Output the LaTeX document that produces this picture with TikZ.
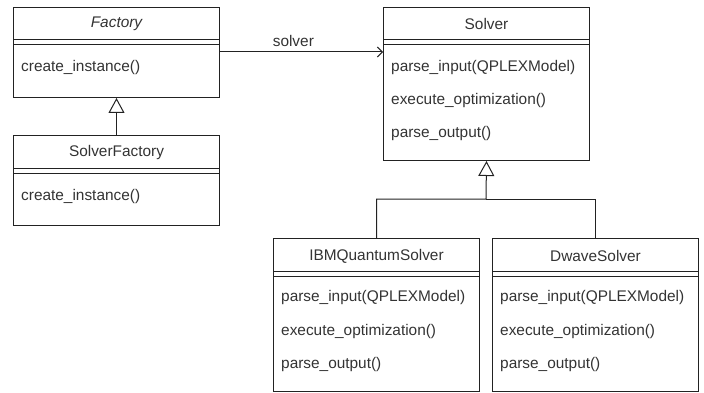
\documentclass[tikz,border=0pt]{standalone}
\usepackage{fontspec}
\setmainfont{Liberation Sans}
\usetikzlibrary{arrows.meta}
\definecolor{txt}{HTML}{333333}
\definecolor{ln}{HTML}{222222}
\begin{document}
\begin{tikzpicture}[x=1pt,y=-1pt,
  box/.style={draw=ln, line width=1pt, anchor=north west, minimum width=206pt, inner sep=0pt},
  sepl/.style={draw=ln, line width=1pt},
  ttl/.style={font=\fontsize{15.4}{18}\selectfont, text=txt, inner sep=0pt},
  meth/.style={font=\fontsize{15.4}{18}\selectfont, text=txt, inner sep=0pt, anchor=west},
  conn/.style={draw=ln, line width=1pt},
  inherit/.style={conn, -{Triangle[open, length=15pt, width=16pt, line width=1pt]}},
  assoc/.style={conn, -{Straight Barb[length=5pt, width=10pt, line width=1pt]}}]
\useasboundingbox (0,0) rectangle (704,393);

% Factory
\node[box, minimum height=90pt] (factory) at (13,7) {};
\draw[sepl] ([yshift=-33pt]factory.north west) -- ([yshift=-33pt]factory.north east);
\draw[sepl] ([yshift=-38pt]factory.north west) -- ([yshift=-38pt]factory.north east);
\node[ttl, font=\fontsize{15.4}{18}\selectfont\itshape] (factoryT) at ([yshift=-17pt]factory.north) {Factory};
\node[meth] (factoryM1) at ([xshift=8pt,yshift=-61pt]factory.north west) {create\_instance()};

% SolverFactory
\node[box, minimum height=90pt] (sfactory) at (13,135) {};
\draw[sepl] ([yshift=-33pt]sfactory.north west) -- ([yshift=-33pt]sfactory.north east);
\draw[sepl] ([yshift=-38pt]sfactory.north west) -- ([yshift=-38pt]sfactory.north east);
\node[ttl] (sfactoryT) at ([yshift=-18pt]sfactory.north) {SolverFactory};
\node[meth] (sfactoryM1) at ([xshift=8pt,yshift=-62pt]sfactory.north west) {create\_instance()};

% Solver
\node[box, minimum height=153pt] (solver) at (383,7) {};
\draw[sepl] ([yshift=-33pt]solver.north west) -- ([yshift=-33pt]solver.north east);
\draw[sepl] ([yshift=-38pt]solver.north west) -- ([yshift=-38pt]solver.north east);
\node[ttl] (solverT) at ([yshift=-17pt]solver.north) {Solver};
\node[meth] (solverM1) at ([xshift=8pt,yshift=-61pt]solver.north west) {parse\_input(QPLEXModel)};
\node[meth] (solverM2) at ([xshift=8pt,yshift=-94pt]solver.north west) {execute\_optimization()};
\node[meth] (solverM3) at ([xshift=8pt,yshift=-127pt]solver.north west) {parse\_output()};

% IBMQuantumSolver
\node[box, minimum height=153pt] (ibm) at (273,238) {};
\draw[sepl] ([yshift=-33pt]ibm.north west) -- ([yshift=-33pt]ibm.north east);
\draw[sepl] ([yshift=-38pt]ibm.north west) -- ([yshift=-38pt]ibm.north east);
\node[ttl] (ibmT) at ([yshift=-18pt]ibm.north) {IBMQuantumSolver};
\node[meth] (ibmM1) at ([xshift=8pt,yshift=-60pt]ibm.north west) {parse\_input(QPLEXModel)};
\node[meth] (ibmM2) at ([xshift=8pt,yshift=-94pt]ibm.north west) {execute\_optimization()};
\node[meth] (ibmM3) at ([xshift=8pt,yshift=-127pt]ibm.north west) {parse\_output()};

% DwaveSolver
\node[box, minimum height=153pt] (dwave) at (492,238) {};
\draw[sepl] ([yshift=-33pt]dwave.north west) -- ([yshift=-33pt]dwave.north east);
\draw[sepl] ([yshift=-38pt]dwave.north west) -- ([yshift=-38pt]dwave.north east);
\node[ttl] (dwaveT) at ([yshift=-18pt]dwave.north) {DwaveSolver};
\node[meth] (dwaveM1) at ([xshift=8pt,yshift=-60pt]dwave.north west) {parse\_input(QPLEXModel)};
\node[meth] (dwaveM2) at ([xshift=8pt,yshift=-94pt]dwave.north west) {execute\_optimization()};
\node[meth] (dwaveM3) at ([xshift=8pt,yshift=-127pt]dwave.north west) {parse\_output()};

% Connectors
\draw[assoc] ([yshift=-45pt]factory.north east) -- ([yshift=-45pt]solver.north west)
  node[pos=0.45, above=5pt, ttl] (solverLbl) {solver};
\draw[inherit] (sfactory.north) -- (factory.south);
\coordinate (join) at (486,199);
\draw[inherit] (ibm.north) |- (join) -- (solver.south);
\draw[conn] (dwave.north) |- (join);
\end{tikzpicture}
\end{document}
